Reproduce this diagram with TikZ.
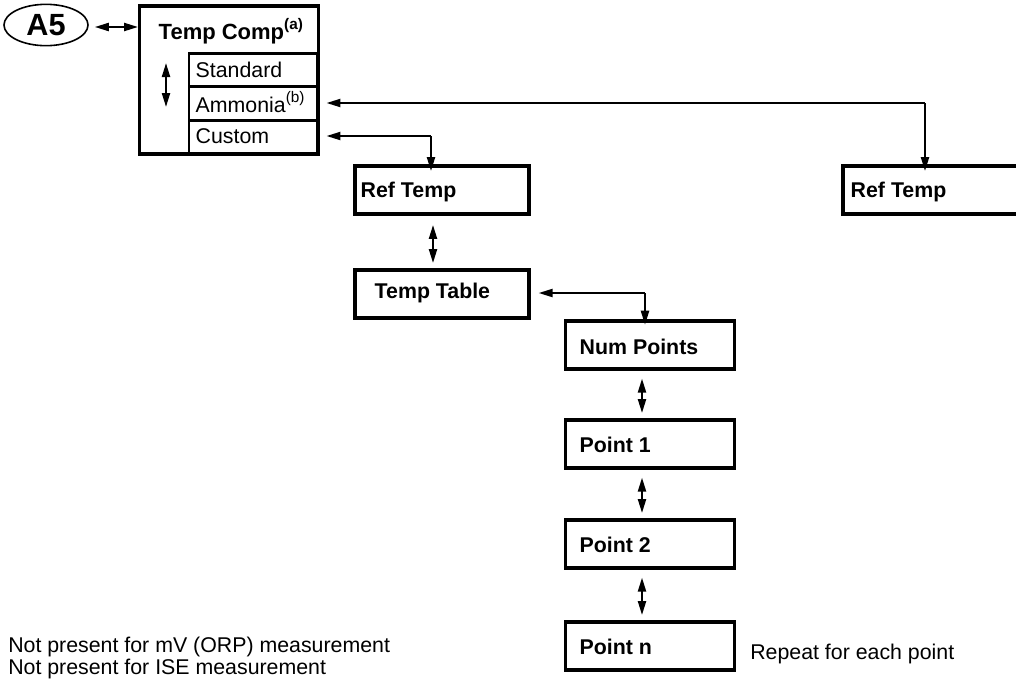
\documentclass[tikz,border=0pt]{standalone}
\usepackage{fontspec}
\setmainfont{Liberation Sans}
\usetikzlibrary{arrows.meta,shapes.geometric}
\newcommand{\supx}[1]{\raisebox{0.45em}{\fontsize{11.5}{11.5}\selectfont #1}}
\tikzset{
  tip/.tip={Triangle[length=10.5pt,width=6pt]},
  conn/.style={line width=1.6pt,-tip},
  dbl/.style={line width=1.6pt,tip-tip},
  box/.style={draw,line width=2.4pt,minimum width=130.5pt,minimum height=36pt,inner sep=0pt},
  lbl/.style={font=\fontsize{16}{19}\selectfont\bfseries,anchor=west},
  rowbox/.style={draw,line width=2.2pt,minimum width=96pt,minimum height=25pt,inner sep=0pt},
  rowtxt/.style={font=\fontsize{16}{19}\selectfont,anchor=west},
  note/.style={font=\fontsize{16}{19}\selectfont,anchor=base west,inner sep=0pt}
}
\begin{document}
\begin{tikzpicture}[x=0.75pt,y=-0.75pt]
\clip (0,0) rectangle (1016,679);
\path[use as bounding box] (0,0) rectangle (1016,679);
% A5
\node[draw,ellipse,line width=1.2pt,minimum width=63pt,minimum height=31pt,inner sep=0pt,
      font=\fontsize{23}{26}\selectfont\bfseries] (a5) at (46,25) {A5};
% Temp Comp outer box
\node[draw,line width=2.4pt,minimum width=134pt,minimum height=111pt,inner sep=0pt] (tc) at (229,80) {};
\node[font=\fontsize{16.5}{19}\selectfont\bfseries,anchor=west] (tctxt) at (154,31) {Temp Comp\supx{\bfseries(a)}};
\node[rowbox] (std) at (253,70) {};
\node[rowbox] (amm) at (253,103.5) {};
\node[rowbox] (cus) at (253,137) {};
\node[rowtxt] at (191,70) {Standard};
\node[rowtxt] at (191,102) {Ammonia\supx{(b)}};
\node[rowtxt] at (191,136) {Custom};
\coordinate (vt) at (166,63);
\coordinate (vb) at (166,107);
\draw[dbl] (vt) -- (vb);
\draw[dbl] (a5.east) ++(6,2) coordinate (a5r) -- (tc.west |- a5r);
% Ref Temp boxes
\node[box] (rt1) at (442,190) {};
\node[lbl] at (356,192) {Ref Temp};
\node[box,minimum width=150pt] (rt2) at (943,190) {};
\node[lbl] at (846,192) {Ref Temp};
% Temp Table
\node[box] (tt) at (442,294) {};
\node[lbl] at (370,293) {Temp Table};
% Points
\node[box,minimum width=127pt] (np) at (650,345) {};
\node[lbl] at (575,347) {Num Points};
\node[box,minimum width=127pt] (p1) at (650,444) {};
\node[lbl] at (575,445) {Point 1};
\node[box,minimum width=127pt] (p2) at (650,544) {};
\node[lbl] at (575,545) {Point 2};
\node[box,minimum width=127pt] (pn) at (650,646) {};
\node[lbl] at (575,647) {Point n};
\node[note] (rep) at (750,659) {Repeat for each point};
% connectors
\coordinate (ammr) at (925,103);
\draw[conn] (ammr) -- ([xshift=6]amm.east |- ammr);
\draw[conn] (ammr) -- ([yshift=-5]ammr |- rt2.north);
\coordinate (cusr) at (431,136);
\draw[conn] (cusr) -- ([xshift=6]cus.east |- cusr);
\draw[conn] (cusr) -- ([yshift=-5]cusr |- rt1.north);
\draw[dbl] ([yshift=-7]rt1.south -| 433,0) -- ([yshift=4]tt.north -| 433,0);
\coordinate (ttr) at (645,293);
\draw[conn] (ttr) -- ([xshift=6]tt.east |- ttr);
\draw[conn] (ttr) -- ([yshift=-4]ttr |- np.north);
\draw[dbl] ([yshift=-6]np.south -| 642,0) -- ([yshift=4]p1.north -| 642,0);
\draw[dbl] ([yshift=-6]p1.south -| 642,0) -- ([yshift=4]p2.north -| 642,0);
\draw[dbl] ([yshift=-6]p2.south -| 642,0) -- ([yshift=4]pn.north -| 642,0);
% footnotes
\node[note] (fn1) at (8,652) {Not present for mV (ORP) measurement};
\node[note] (fn2) at (8,674) {Not present for ISE measurement};
\end{tikzpicture}
\end{document}
